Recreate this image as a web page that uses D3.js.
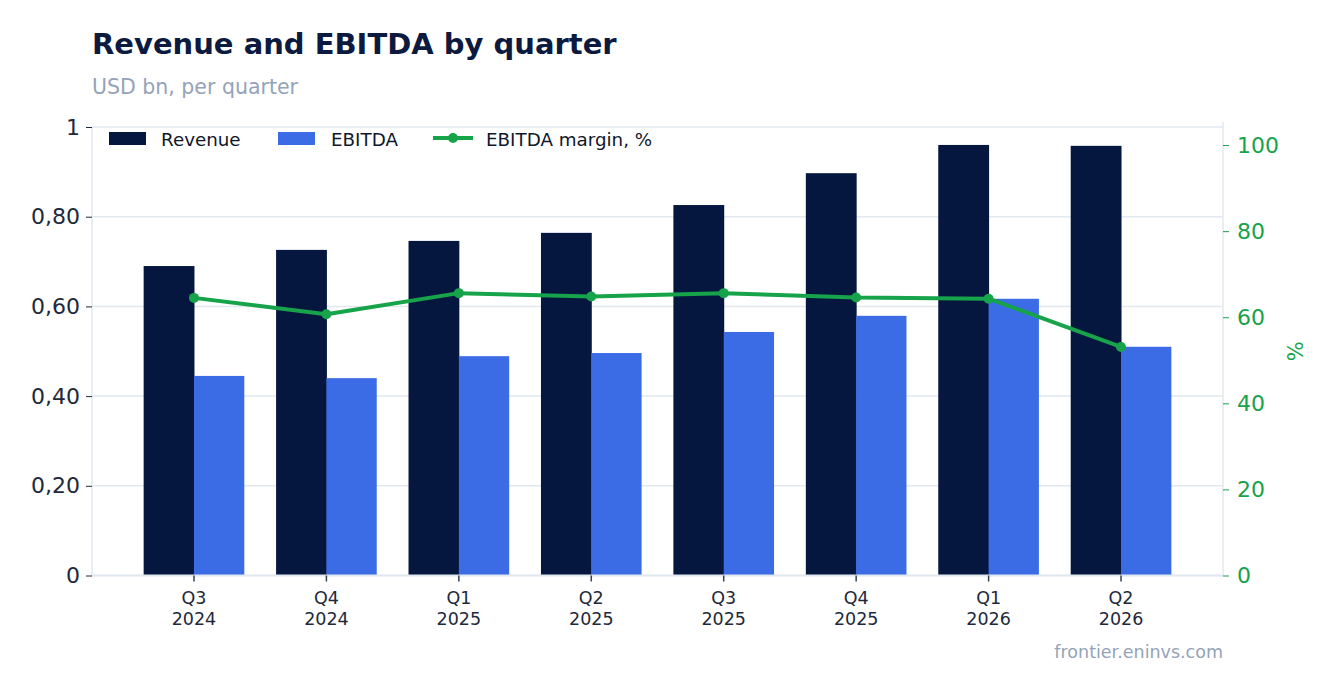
<!DOCTYPE html>
<html lang="en">
<head>
<meta charset="UTF-8">
<title>Revenue and EBITDA by quarter</title>
<script src="https://cdn.jsdelivr.net/npm/d3@7/dist/d3.min.js"></script>
<style>
  body { margin: 0; background: #fff; }
  svg { display: block; font-family: "DejaVu Sans", sans-serif; }
</style>
</head>
<body>
<svg id="chart" width="1336" height="693"></svg>
<script>
// data
const quarters = ["Q3 2024", "Q4 2024", "Q1 2025", "Q2 2025", "Q3 2025", "Q4 2025", "Q1 2026", "Q2 2026"];
const revenue = [0.690, 0.726, 0.746, 0.764, 0.826, 0.897, 0.960, 0.958];
const ebitda = [0.445, 0.440, 0.489, 0.496, 0.543, 0.579, 0.617, 0.510];
const margin = [64.5, 60.7, 65.6, 64.8, 65.6, 64.6, 64.3, 53.1];
const leftTicks = [0, 0.2, 0.4, 0.6, 0.8, 1];
const rightTicks = [0, 20, 40, 60, 80, 100];

const navy = '#05173f', blue = '#3b6ce6', green = '#16a34a', grid = '#e2e8f0';

const svg = d3.select('#chart');
const margin_ = { top: 127, right: 113, bottom: 117.5, left: 92 };
const width = 1336, height = 693;
const innerW = width - margin_.left - margin_.right;
const innerH = height - margin_.top - margin_.bottom;

const g = svg.append('g').attr('transform', `translate(${margin_.left},${margin_.top})`);

const x = d3.scaleBand().domain(quarters).range([0, innerW]).paddingInner(0.24).paddingOuter(0.39);
const xSub = d3.scaleBand().domain(['rev', 'ebitda']).range([0, x.bandwidth()]);
const y = d3.scaleLinear().domain([0, 1]).range([innerH, 0]);
const y2 = d3.scaleLinear().domain([0, 104.2]).range([innerH, 0]);

// gridlines
g.append('g').selectAll('line').data(leftTicks).join('line')
  .attr('x1', 0).attr('x2', innerW)
  .attr('y1', d => y(d)).attr('y2', d => y(d))
  .attr('stroke', grid).attr('stroke-width', 1.5);

// bars
const groups = g.append('g').selectAll('g').data(quarters).join('g')
  .attr('transform', d => `translate(${x(d)},0)`);
groups.append('rect')
  .attr('x', xSub('rev')).attr('width', xSub.bandwidth() + 0.5)
  .attr('y', (d, i) => y(revenue[i])).attr('height', (d, i) => innerH - y(revenue[i]))
  .attr('fill', navy);
groups.append('rect')
  .attr('x', xSub('ebitda')).attr('width', xSub.bandwidth())
  .attr('y', (d, i) => y(ebitda[i])).attr('height', (d, i) => innerH - y(ebitda[i]))
  .attr('fill', blue);

// left axis
const fmt = d => (d === 0 || d === 1) ? String(d) : d3.format('.2f')(d).replace('.', ',');
const yAxis = g.append('g').call(d3.axisLeft(y).tickValues(leftTicks).tickFormat(fmt).tickSize(6).tickPadding(6));
yAxis.select('.domain').attr('stroke', grid).attr('stroke-width', 1.5).attr('d', `M0,${innerH}V0`);
yAxis.selectAll('.tick line').attr('stroke', '#1e293b');
yAxis.selectAll('.tick text').attr('fill', '#1e293b').style('font-size', '22px').style('font-family', 'DejaVu Sans');

// right axis
const y2Axis = g.append('g').attr('transform', `translate(${innerW},0)`)
  .call(d3.axisRight(y2).tickValues(rightTicks).tickSize(6).tickPadding(8));
y2Axis.select('.domain').attr('stroke', grid).attr('stroke-width', 1.5).attr('d', `M0,${innerH}V-5`);
y2Axis.selectAll('.tick line').attr('stroke', green);
y2Axis.selectAll('.tick text').attr('fill', green).style('font-size', '22px').style('font-family', 'DejaVu Sans');
g.append('text')
  .attr('transform', `translate(${innerW + 80},${innerH / 2}) rotate(-90)`)
  .attr('text-anchor', 'middle').attr('fill', green)
  .style('font-size', '21px').text('%');

// x axis
const xAxis = g.append('g').attr('transform', `translate(0,${innerH})`)
  .call(d3.axisBottom(x).tickSize(6).tickPadding(10));
xAxis.select('.domain').attr('stroke', grid).attr('stroke-width', 2).attr('d', `M0,0H${innerW}`);
xAxis.selectAll('.tick line').attr('stroke', '#334155').attr('stroke-width', 1.5);
xAxis.selectAll('.tick text').each(function (d) {
  const parts = d.split(' ');
  const t = d3.select(this).text(null).attr('fill', '#1e293b').style('font-size', '17.5px').style('font-family', 'DejaVu Sans');
  t.append('tspan').attr('x', 0).attr('dy', '0.71em').text(parts[0]);
  t.append('tspan').attr('x', 0).attr('dy', '1.2em').text(parts[1]);
});

// margin line
const line = d3.line().x((d, i) => x(quarters[i]) + x.bandwidth() / 2).y(d => y2(d));
g.append('path').datum(margin).attr('d', line)
  .attr('fill', 'none').attr('stroke', green).attr('stroke-width', 4).attr('stroke-linejoin', 'round');
g.append('g').selectAll('circle').data(margin).join('circle')
  .attr('cx', (d, i) => x(quarters[i]) + x.bandwidth() / 2).attr('cy', d => y2(d))
  .attr('r', 5).attr('fill', green);

// legend
const legend = svg.append('g').attr('transform', 'translate(109,139)');
legend.append('rect').attr('x', 0).attr('y', -7).attr('width', 37).attr('height', 13).attr('fill', navy);
legend.append('text').attr('x', 52).attr('y', 6.5).text('Revenue');
legend.append('rect').attr('x', 169).attr('y', -7).attr('width', 37).attr('height', 13).attr('fill', blue);
legend.append('text').attr('x', 222).attr('y', 6.5).text('EBITDA');
legend.append('line').attr('x1', 324).attr('x2', 364).attr('y1', -1).attr('y2', -1).attr('stroke', green).attr('stroke-width', 4);
legend.append('circle').attr('cx', 344).attr('cy', -1).attr('r', 5).attr('fill', green);
legend.append('text').attr('x', 377).attr('y', 6.5).text('EBITDA margin, %');
legend.selectAll('text').attr('fill', '#0f172a').style('font-size', '18.3px');

// titles
svg.append('text').attr('x', 92).attr('y', 54)
  .attr('fill', '#0b1a3e').style('font-size', '29px').style('font-weight', 'bold')
  .text('Revenue and EBITDA by quarter');
svg.append('text').attr('x', 92).attr('y', 94)
  .attr('fill', '#94a3b8').style('font-size', '20.5px')
  .text('USD bn, per quarter');
svg.append('text').attr('x', 1223).attr('y', 658).attr('text-anchor', 'end')
  .attr('fill', '#94a3b8').style('font-size', '17.5px')
  .text('frontier.eninvs.com');
</script>
</body>
</html>
